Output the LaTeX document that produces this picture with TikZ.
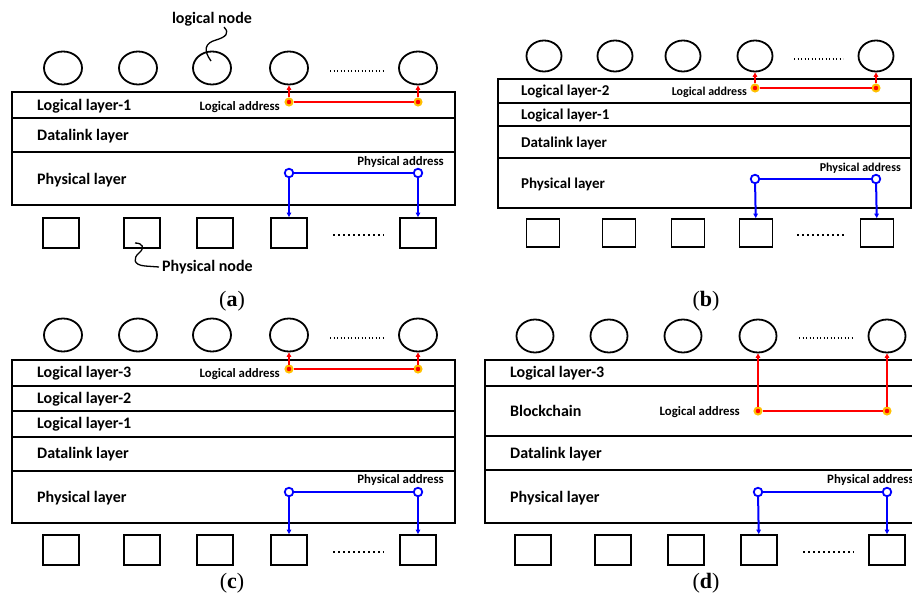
\documentclass[tikz,border=0pt]{standalone}
\usepackage{fontspec}
\setmainfont{Carlito}
\newfontfamily\capfont{Liberation Serif}
\usetikzlibrary{shapes.geometric,arrows.meta}

\definecolor{halo}{RGB}{255,192,0}

\tikzset{
  lnode/.style={ellipse, draw, line width=1.8pt, inner sep=0pt},
  pnode/.style={rectangle, draw, line width=1.8pt, inner sep=0pt},
  boxline/.style={line width=2.4pt},
  layertxt/.style={anchor=west, inner sep=0pt, font=\bfseries\fontsize{16}{17}\selectfont},
  layertxtb/.style={anchor=west, inner sep=0pt, font=\bfseries\fontsize{15}{16}\selectfont},
  addr/.style={inner sep=0pt, font=\bfseries\fontsize{12.8}{13}\selectfont},
  addrb/.style={inner sep=0pt, font=\bfseries\fontsize{12}{13}\selectfont},
  labeltxt/.style={inner sep=0pt, font=\bfseries\fontsize{16}{17}\selectfont},
  captxt/.style={inner sep=0pt, font=\capfont\fontsize{22}{23}\selectfont},
  reddot/.style={circle, fill=red, draw=halo, line width=2pt, minimum size=7pt, inner sep=0pt},
  bluering/.style={circle, draw=blue, fill=white, line width=1.8pt, minimum size=8.5pt, inner sep=0pt},
  redlink/.style={draw=red, line width=1.6pt},
  bluelink/.style={draw=blue, line width=2pt},
  uptip/.style={-{Triangle[length=4.5pt,width=4.5pt]}},
  fineDots/.style={line width=1.6pt, dash pattern=on 1.4pt off 2.1pt},
  boldDots/.style={line width=2.4pt, dash pattern=on 2.2pt off 2.8pt},
  squiggle/.style={line width=1.3pt},
}

\begin{document}
\begin{tikzpicture}[x=1pt,y=-1pt]
\useasboundingbox (0,0) rectangle (912,596);
\clip (0,0) rectangle (912,596);

% ---------------- (a) ----------------
\foreach \x [count=\i] in {63,138,212,289,418}
  \node[lnode, minimum width=38pt, minimum height=33pt] (a-c\i) at (\x,68) {};
\foreach \x [count=\i] in {61,142,215,289,418}
  \node[pnode, minimum width=36pt, minimum height=30pt] (a-s\i) at (\x,233) {};
\draw[fineDots] (330,71) -- (383,71);
\draw[boldDots] (333,235) -- (384,235);

\draw[boxline] (12,92) rectangle (455,205);
\draw[boxline] (12,118) -- (455,118);
\draw[boxline] (12,152) -- (455,152);
\node[layertxt] (a-t1) at (37,106) {Logical layer-1};
\node[layertxt] (a-t2) at (37,136) {Datalink layer};
\node[layertxt] (a-t3) at (37,180) {Physical layer};

\node[addr, anchor=east] (a-la) at (280,107) {Logical address};
\node[reddot] (a-r1) at (289,102) {};
\node[reddot] (a-r2) at (418,102) {};
\draw[redlink] (a-r1) -- (a-r2);
\draw[redlink, uptip] (a-r1) -- (a-c4);
\draw[redlink, uptip] (a-r2) -- (a-c5);

\node[addr, anchor=east] (a-pa) at (444,162) {Physical address};
\node[bluering] (a-b1) at (289,173) {};
\node[bluering] (a-b2) at (418,173) {};
\draw[bluelink] (a-b1) -- (a-b2);
\draw[bluelink, uptip] (a-b1) -- (a-s4);
\draw[bluelink, uptip] (a-b2) -- (a-s5);

\node[labeltxt] (a-ln) at (212,19) {logical node};
\coordinate (a-lnend) at (211,61);
\draw[squiggle] (a-ln.south) ++(12,1) .. controls (230,33) and (226,37) .. (216,40)
  .. controls (205,43) and (203,50) .. (a-lnend);
\node[labeltxt, anchor=west] (a-pn) at (162,267) {Physical node};
\coordinate (a-pnend) at (135,243);
\draw[squiggle] (a-pn.west) ++(-3,0) -- (145,266)
  .. controls (133,265) and (133,258) .. (139,253)
  .. controls (145,248) and (143,243) .. (a-pnend);

\node[captxt] (a-cap) at (232,301) {(\textbf{a})};

% ---------------- (b) ----------------
\foreach \x [count=\i] in {544,615,683,755,876}
  \node[lnode, minimum width=35pt, minimum height=31pt] (b-c\i) at (\x,56) {};
\foreach \x [count=\i] in {543,619,688,756,877}
  \node[pnode, minimum width=33pt, minimum height=28pt] (b-s\i) at (\x,233) {};
\draw[fineDots] (794,59) -- (843,59);
\draw[boldDots] (797,235) -- (846,235);

\draw[boxline] (498,79) rectangle (911,208);
\draw[boxline] (498,103) -- (911,103);
\draw[boxline] (498,126) -- (911,126);
\draw[boxline] (498,158) -- (911,158);
\node[layertxtb] (b-t1) at (521,92) {Logical layer-2};
\node[layertxtb] (b-t2) at (521,116) {Logical layer-1};
\node[layertxtb] (b-t3) at (521,143) {Datalink layer};
\node[layertxtb] (b-t4) at (521,184) {Physical layer};

\node[addrb, anchor=east] (b-la) at (747,92) {Logical address};
\node[reddot] (b-r1) at (755,88) {};
\node[reddot] (b-r2) at (876,88) {};
\draw[redlink] (b-r1) -- (b-r2);
\draw[redlink, uptip] (b-r1) -- (b-c4);
\draw[redlink, uptip] (b-r2) -- (b-c5);

\node[addrb, anchor=east] (b-pa) at (901,168) {Physical address};
\node[bluering] (b-b1) at (755,179) {};
\node[bluering] (b-b2) at (876,179) {};
\draw[bluelink] (b-b1) -- (b-b2);
\draw[bluelink, uptip] (b-b1) -- (b-s4);
\draw[bluelink, uptip] (b-b2) -- (b-s5);

\node[captxt] (b-cap) at (706,301) {(\textbf{b})};

% ---------------- (c) ----------------
\foreach \x [count=\i] in {63,138,212,289,418}
  \node[lnode, minimum width=38pt, minimum height=33pt] (c-c\i) at (\x,335) {};
\foreach \x [count=\i] in {61,142,215,289,418}
  \node[pnode, minimum width=36pt, minimum height=30pt] (c-s\i) at (\x,550) {};
\draw[fineDots] (330,338) -- (383,338);
\draw[boldDots] (333,552) -- (384,552);

\draw[boxline] (12,360) rectangle (455,523);
\draw[boxline] (12,386) -- (455,386);
\draw[boxline] (12,411) -- (455,411);
\draw[boxline] (12,437) -- (455,437);
\draw[boxline] (12,471) -- (455,471);
\node[layertxt] (c-t1) at (37,373) {Logical layer-3};
\node[layertxt] (c-t2) at (37,399) {Logical layer-2};
\node[layertxt] (c-t3) at (37,424) {Logical layer-1};
\node[layertxt] (c-t4) at (37,454) {Datalink layer};
\node[layertxt] (c-t5) at (37,498) {Physical layer};

\node[addr, anchor=east] (c-la) at (280,374) {Logical address};
\node[reddot] (c-r1) at (289,369) {};
\node[reddot] (c-r2) at (418,369) {};
\draw[redlink] (c-r1) -- (c-r2);
\draw[redlink, uptip] (c-r1) -- (c-c4);
\draw[redlink, uptip] (c-r2) -- (c-c5);

\node[addr, anchor=east] (c-pa) at (444,480) {Physical address};
\node[bluering] (c-b1) at (289,492) {};
\node[bluering] (c-b2) at (418,492) {};
\draw[bluelink] (c-b1) -- (c-b2);
\draw[bluelink, uptip] (c-b1) -- (c-s4);
\draw[bluelink, uptip] (c-b2) -- (c-s5);

\node[captxt] (c-cap) at (232,583) {(\textbf{c})};

% ---------------- (d) ----------------
\foreach \x [count=\i] in {535,609,683,758,887}
  \node[lnode, minimum width=37pt, minimum height=33pt] (d-c\i) at (\x,336) {};
\foreach \x [count=\i] in {533,613,686,759,887}
  \node[pnode, minimum width=36pt, minimum height=30pt] (d-s\i) at (\x,550) {};
\draw[fineDots] (799,338) -- (852,338);
\draw[boldDots] (803,552) -- (854,552);

\draw[boxline] (485,360) rectangle (940,523);
\draw[boxline] (485,386) -- (940,386);
\draw[boxline] (485,436) -- (940,436);
\draw[boxline] (485,470) -- (940,470);
\node[layertxt] (d-t1) at (510,373) {Logical layer-3};
\node[layertxt] (d-t2) at (510,411) {Blockchain};
\node[layertxt] (d-t3) at (510,454) {Datalink layer};
\node[layertxt] (d-t4) at (510,498) {Physical layer};

\node[addr, anchor=east] (d-la) at (740,412) {Logical address};
\node[reddot] (d-r1) at (758,411) {};
\node[reddot] (d-r2) at (887,411) {};
\draw[redlink] (d-r1) -- (d-r2);
\draw[redlink, uptip] (d-r1) -- (d-c4);
\draw[redlink, uptip] (d-r2) -- (d-c5);

\node[addr, anchor=west] (d-pa) at (827,480) {Physical address};
\node[bluering] (d-b1) at (758,492) {};
\node[bluering] (d-b2) at (887,492) {};
\draw[bluelink] (d-b1) -- (d-b2);
\draw[bluelink, uptip] (d-b1) -- (d-s4);
\draw[bluelink, uptip] (d-b2) -- (d-s5);

\node[captxt] (d-cap) at (706,583) {(\textbf{d})};
\end{tikzpicture}
\end{document}
